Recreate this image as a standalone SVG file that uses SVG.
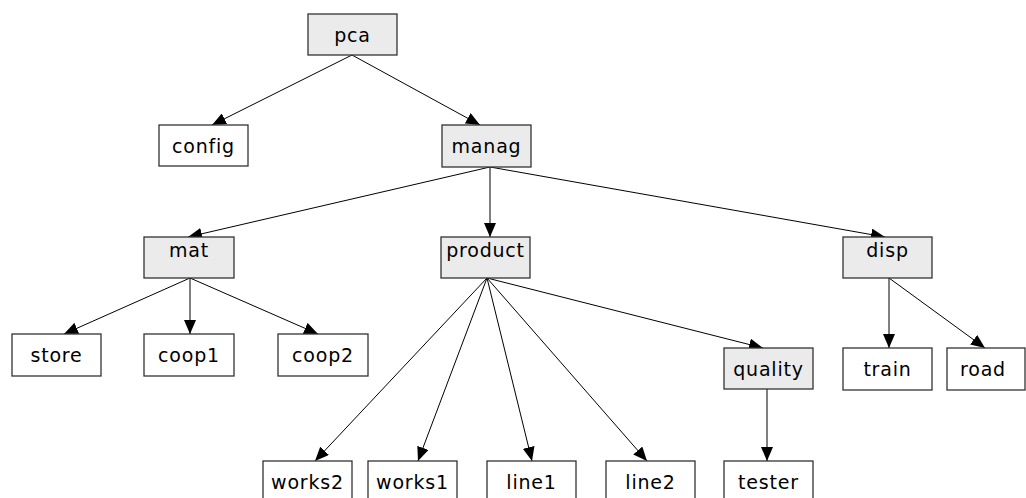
<svg xmlns="http://www.w3.org/2000/svg" width="1026" height="498" viewBox="0 0 1026 498">
  <style>
    .box { stroke: #333; stroke-width: 1.3; fill: #fff; }
    .box.g { fill: #ebebeb; }
    text { font-family: "DejaVu Sans", sans-serif; font-size: 19px; letter-spacing: 0.8px; fill: #000; text-anchor: middle; }
    #edges line { stroke: #000; stroke-width: 1; marker-end: url(#arr); }
  </style>
  <defs>
    <marker id="arr" markerUnits="userSpaceOnUse" markerWidth="14" markerHeight="12" refX="14" refY="6" orient="auto">
      <path d="M0,0 L14,6 L0,12 z" fill="#000"/>
    </marker>
  </defs>
  <rect width="1026" height="498" fill="#fff"/>

  <g id="edges">
    <line x1="352" y1="55" x2="212" y2="125"/>
    <line x1="352" y1="55" x2="480" y2="125"/>
    <line x1="490" y1="167" x2="188" y2="237"/>
    <line x1="490" y1="167" x2="490" y2="237"/>
    <line x1="490" y1="167" x2="885" y2="237"/>
    <line x1="190" y1="278" x2="64" y2="334"/>
    <line x1="190" y1="278" x2="190" y2="334"/>
    <line x1="190" y1="278" x2="318" y2="334"/>
    <line x1="487" y1="278" x2="315" y2="461"/>
    <line x1="487" y1="278" x2="418" y2="461"/>
    <line x1="487" y1="278" x2="532" y2="461"/>
    <line x1="487" y1="278" x2="647" y2="461"/>
    <line x1="487" y1="278" x2="763" y2="348"/>
    <line x1="767" y1="389" x2="767" y2="461"/>
    <line x1="889" y1="278" x2="889" y2="348"/>
    <line x1="889" y1="278" x2="985" y2="348"/>
  </g>

  <g id="pca"><rect class="box g" x="308" y="14" width="89" height="41"/><text x="352.5" y="41.5">pca</text></g>
  <g id="config"><rect class="box" x="159" y="125" width="89" height="41"/><text x="203.5" y="152.5">config</text></g>
  <g id="manag"><rect class="box g" x="442" y="125" width="89" height="42"/><text x="486.5" y="153">manag</text></g>
  <g id="mat"><rect class="box g" x="144" y="237" width="90" height="41"/><text x="189" y="257">mat</text></g>
  <g id="product"><rect class="box g" x="441" y="237" width="89" height="41"/><text x="485.5" y="257">product</text></g>
  <g id="disp"><rect class="box g" x="843" y="237" width="89" height="41"/><text x="887.5" y="257">disp</text></g>
  <g id="store"><rect class="box" x="12" y="334" width="89" height="42"/><text x="56.5" y="362">store</text></g>
  <g id="coop1"><rect class="box" x="144" y="334" width="90" height="42"/><text x="189" y="362">coop1</text></g>
  <g id="coop2"><rect class="box" x="278" y="334" width="90" height="42"/><text x="323" y="362">coop2</text></g>
  <g id="quality"><rect class="box g" x="724" y="348" width="89" height="41"/><text x="768.5" y="376">quality</text></g>
  <g id="train"><rect class="box" x="843" y="348" width="89" height="42"/><text x="887.5" y="376">train</text></g>
  <g id="road"><rect class="box" x="947" y="348" width="78" height="42"/><text x="983" y="376">road</text></g>
  <g id="works2"><rect class="box" x="263" y="461" width="89" height="42"/><text x="307.5" y="489">works2</text></g>
  <g id="works1"><rect class="box" x="368" y="461" width="89" height="42"/><text x="412.5" y="489">works1</text></g>
  <g id="line1"><rect class="box" x="487" y="461" width="89" height="42"/><text x="531.5" y="489">line1</text></g>
  <g id="line2"><rect class="box" x="606" y="461" width="89" height="42"/><text x="650.5" y="489">line2</text></g>
  <g id="tester"><rect class="box" x="724" y="461" width="89" height="42"/><text x="768.5" y="489">tester</text></g>
</svg>
